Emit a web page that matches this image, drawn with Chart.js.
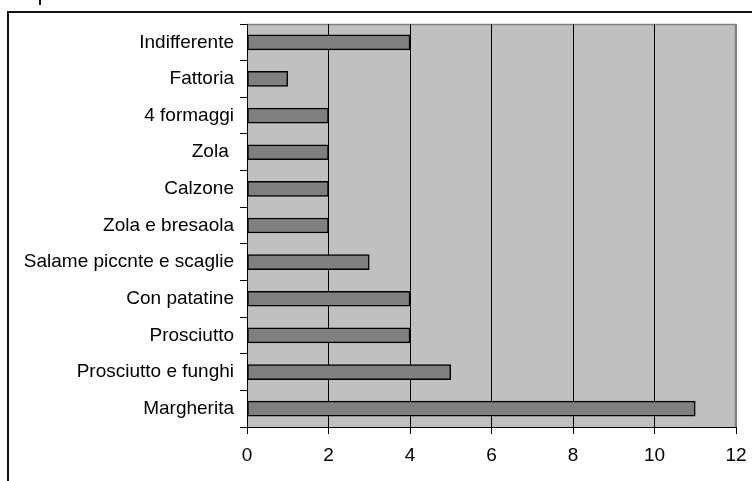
<!DOCTYPE html>
<html>
<head>
<meta charset="utf-8">
<script src="https://cdn.jsdelivr.net/npm/chart.js@4/dist/chart.umd.min.js"></script>
<style>
  html, body { margin: 0; padding: 0; background: #fff; }
  #wrap { position: relative; width: 752px; height: 481px; overflow: hidden; }
  #frame { position: absolute; left: 7px; top: 11px; width: 800px; height: 500px;
           border-left: 2px solid #111; border-top: 2px solid #111; box-sizing: border-box; }
  #mark { position: absolute; left: 39px; top: 0; width: 2px; height: 5px; background: #111; }
  canvas { position: absolute; left: 0; top: 0; }
</style>
</head>
<body>
<div id="wrap">
  <div id="frame"></div>
  <div id="mark"></div>
  <canvas id="chart" width="752" height="481"></canvas>
</div>
<script>
// categories top to bottom
let categories = ['Indifferente', 'Fattoria', '4 formaggi', 'Zola ', 'Calzone', 'Zola e bresaola',
  'Salame piccnte e scaglie', 'Con patatine', 'Prosciutto', 'Prosciutto e funghi', 'Margherita'];
let votes = [4, 1, 2, 2, 2, 2, 3, 4, 4, 5, 11];
let xTicks = [0, 2, 4, 6, 8, 10, 12];

let plotBg = {
  id: 'plotBg',
  beforeDraw(chart) {
    let a = chart.chartArea;
    let ctx = chart.ctx;
    ctx.save();
    ctx.fillStyle = '#c0c0c0';
    ctx.fillRect(a.left, a.top, a.right - a.left, a.bottom - a.top);
    ctx.strokeStyle = '#808080';
    ctx.lineWidth = 1.5;
    ctx.beginPath();
    ctx.moveTo(a.left, a.top + 0.5);
    ctx.lineTo(a.right - 0.5, a.top + 0.5);
    ctx.lineTo(a.right - 0.5, a.bottom);
    ctx.stroke();
    ctx.restore();
  }
};

let font = { family: 'Liberation Sans, Arial', size: 19 };

let ctx = document.getElementById('chart').getContext('2d');
let chart = new Chart(ctx, {
  type: 'bar',
  data: {
    labels: categories,
    datasets: [{
      data: votes,
      backgroundColor: '#808080',
      borderColor: '#000',
      borderWidth: 1.5,
      borderSkipped: false,
      barThickness: 15
    }]
  },
  options: {
    indexAxis: 'y',
    responsive: false,
    animation: false,
    layout: { padding: { top: 24, right: 16, left: 0, bottom: 0 } },
    plugins: { legend: { display: false }, tooltip: { enabled: false } },
    scales: {
      x: {
        min: 0, max: 12,
        afterBuildTicks(scale) { scale.ticks = xTicks.map(v => ({ value: v })); },
        afterFit(scale) {
          scale.height = 54;
          scale.paddingLeft = 0;
          scale.paddingRight = 0;
        },
        grid: {
          color: c => c.index === xTicks.length - 1 ? '#808080' : '#000',
          tickColor: '#000',
          tickLength: 7,
          lineWidth: 1
        },
        border: { display: true, color: '#000', width: 1 },
        ticks: { color: '#000', padding: 10, font: font }
      },
      y: {
        afterFit(scale) {
          scale.width = 247;
          scale.paddingTop = 0;
          scale.paddingBottom = 0;
        },
        grid: {
          offset: true,
          drawOnChartArea: false,
          tickColor: '#000',
          tickLength: 7
        },
        border: { display: true, color: '#000', width: 1 },
        ticks: { color: '#000', padding: 6, font: font }
      }
    }
  },
  plugins: [plotBg]
});
</script>
</body>
</html>
